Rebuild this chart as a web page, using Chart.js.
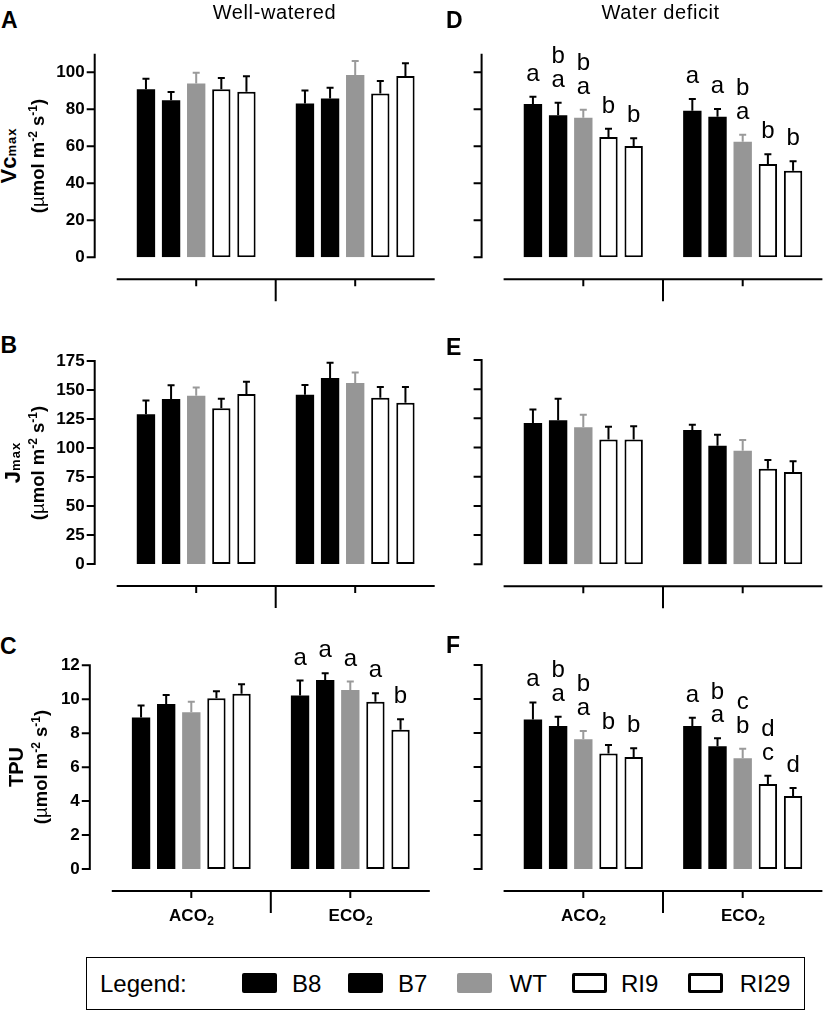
<!DOCTYPE html>
<html>
<head>
<meta charset="utf-8">
<script src="https://cdn.jsdelivr.net/npm/chart.js@4.4.1/dist/chart.umd.min.js"></script>
<style>
  body { margin: 0; background: #fff; }
  #fig { position: relative; width: 827px; height: 1011px; overflow: hidden;
         font-family: "Liberation Sans", Arial, sans-serif; color: #000; background: #fff; }
  #fig canvas { position: absolute; }
  .t { position: absolute; white-space: nowrap; }
  .rot { position: absolute; white-space: nowrap; text-align: center; transform: rotate(-90deg); transform-origin: 50% 50%; font-weight: bold; }
  .sw { position: absolute; box-sizing: border-box; border-radius: 2px; }
</style>
</head>
<body>
<div id="fig"></div>
<script>
// ---------------- DATA ----------------
const categories = ['ACO2', 'ECO2'];
const series = ['B8', 'B7', 'WT', 'RI9', 'RI29'];

const vcTicks = [0, 20, 40, 60, 80, 100];
const jTicks = [0, 25, 50, 75, 100, 125, 150, 175];
const tpuTicks = [0, 2, 4, 6, 8, 10, 12];
const vcMax = 110, jMax = 175, tpuMax = 12;

// [series][category]  (category order: ACO2, ECO2)
const vcWellMean = [[90.8, 83.2], [84.9, 85.9], [94.0, 98.6], [90.8, 88.6], [89.5, 98.0]];
const vcWellErr  = [[5.7, 6.9], [4.5, 5.8], [5.8, 7.5], [6.1, 6.7], [8.3, 6.9]];

const jWellMean = [[129.0, 146.0], [142.2, 160.3], [145.1, 156.0], [134.2, 143.4], [146.6, 139.0]];
const jWellErr  = [[12.0, 8.3], [12.0, 13.2], [7.0, 9.0], [8.3, 9.2], [10.6, 13.6]];

const tpuWellMean = [[8.92, 10.22], [9.72, 11.14], [9.23, 10.55], [10.06, 9.86], [10.33, 8.21]];
const tpuWellErr  = [[0.71, 0.88], [0.53, 0.39], [0.63, 0.49], [0.41, 0.49], [0.55, 0.61]];

const vcDefMean = [[82.9, 79.2], [76.8, 76.0], [75.5, 62.5], [65.0, 50.4], [60.2, 46.8]];
const vcDefErr  = [[3.9, 6.4], [6.8, 4.2], [4.3, 3.8], [4.5, 5.3], [4.1, 5.1]];

const jDefMean = [[121.0, 115.0], [123.3, 101.6], [117.3, 97.3], [106.8, 81.9], [106.8, 79.1]];
const jDefErr  = [[11.7, 4.6], [18.6, 9.4], [10.9, 9.1], [11.1, 7.5], [11.4, 9.1]];

const tpuDefMean = [[8.80, 8.41], [8.41, 7.22], [7.63, 6.51], [6.80, 5.00], [6.59, 4.29]];
const tpuDefErr  = [[1.00, 0.49], [0.55, 0.47], [0.49, 0.57], [0.49, 0.49], [0.51, 0.47]];

// significance letters [category][series], read top-to-bottom
const tpuWellLetters = [['', '', '', '', ''], ['a', 'a', 'a', 'a', 'b']];
const vcDefLetters   = [['a', 'ba', 'ba', 'b', 'b'], ['a', 'a', 'ba', 'b', 'b']];
const tpuDefLetters  = [['a', 'ba', 'ba', 'b', 'b'], ['a', 'ba', 'cb', 'dc', 'd']];

// ---------------- STYLE ----------------
const FONT = '"Liberation Sans", Arial, sans-serif';
const seriesFill = ['#000000', '#000000', '#969696', '#ffffff', '#ffffff'];
const seriesBorder = [0, 0, 0, 2, 2];
const seriesErrColor = ['#000000', '#000000', '#9a9a9a', '#000000', '#000000'];

Chart.defaults.font.family = FONT;
Chart.defaults.color = '#000';

const fig = document.getElementById('fig');

function makePanel(cfg) {
  const p = cfg.plot;
  const left = Math.floor(p.l - 80);
  const top = Math.floor(p.t - 50);
  const width = Math.ceil(p.r + 4 - left);
  const height = Math.ceil(p.b + 62 - top);
  const cv = document.createElement('canvas');
  cv.width = width; cv.height = height;
  cv.style.left = left + 'px'; cv.style.top = top + 'px';
  cv.style.width = width + 'px'; cv.style.height = height + 'px';
  fig.appendChild(cv);

  const plugin = {
    id: 'panel_' + cfg.id,
    afterDatasetsDraw(chart) {
      const ctx = chart.ctx, y = chart.scales.y;
      chart.data.datasets.forEach((ds, di) => {
        const meta = chart.getDatasetMeta(di);
        meta.data.forEach((bar, ci) => {
          const errTop = y.getPixelForValue(ds.data[ci] + ds.errs[ci]);
          ctx.save();
          ctx.strokeStyle = ds.errColor;
          ctx.lineWidth = 2;
          ctx.beginPath();
          ctx.moveTo(bar.x, bar.y);
          ctx.lineTo(bar.x, errTop);
          ctx.moveTo(bar.x - 3.5, errTop);
          ctx.lineTo(bar.x + 3.5, errTop);
          ctx.stroke();
          if (cfg.letters) {
            const str = cfg.letters[ci][di] || '';
            const n = str.length;
            ctx.fillStyle = '#000';
            ctx.font = '24px ' + FONT;
            ctx.textAlign = 'center';
            ctx.textBaseline = 'alphabetic';
            for (let k = 0; k < n; k++) {
              ctx.fillText(str[k], bar.x, errTop - 16 - (n - 1 - k) * 23.5);
            }
          }
          ctx.restore();
        });
      });
    },
    afterDraw(chart) {
      const ctx = chart.ctx, ca = chart.chartArea, y = chart.scales.y, x = chart.scales.x;
      ctx.save();
      ctx.strokeStyle = '#000';
      ctx.lineWidth = 2;
      // y axis (offset)
      const ax = ca.left - 22;
      const y0 = y.getPixelForValue(0), yTop = y.getPixelForValue(cfg.yMax);
      ctx.beginPath();
      ctx.moveTo(ax, y0 + 1);
      ctx.lineTo(ax, yTop);
      cfg.yTicks.forEach(v => {
        const py = y.getPixelForValue(v);
        ctx.moveTo(ax - 8, py);
        ctx.lineTo(ax + 1, py);
      });
      ctx.stroke();
      // x axis (offset)
      const ly = ca.bottom + 22;
      ctx.beginPath();
      ctx.moveTo(ca.left, ly);
      ctx.lineTo(ca.right, ly);
      const cx = categories.map((c, i) => x.getPixelForValue(i));
      cx.forEach(px => { ctx.moveTo(px, ly); ctx.lineTo(px, ly + 7); });
      const mid = (cx[0] + cx[1]) / 2;
      ctx.moveTo(mid, ly);
      ctx.lineTo(mid, ly + 22);
      ctx.stroke();
      if (cfg.showX) {
        ctx.fillStyle = '#000';
        ctx.textBaseline = 'alphabetic';
        ctx.textAlign = 'left';
        categories.forEach((c, i) => {
          const main = c.slice(0, -1), sub = c.slice(-1);
          ctx.font = 'bold 17px ' + FONT;
          const w1 = ctx.measureText(main).width;
          ctx.font = 'bold 12px ' + FONT;
          const w2 = ctx.measureText(sub).width;
          const sx = cx[i] - (w1 + w2) / 2;
          ctx.font = 'bold 17px ' + FONT;
          ctx.fillText(main, sx, ly + 30);
          ctx.font = 'bold 12px ' + FONT;
          ctx.fillText(sub, sx + w1 + 0.5, ly + 34);
        });
      }
      ctx.restore();
    }
  };

  const datasets = series.map((s, i) => ({
    label: s,
    data: cfg.means[i],
    errs: cfg.errs[i],
    errColor: seriesErrColor[i],
    backgroundColor: seriesFill[i],
    borderColor: '#000',
    borderWidth: seriesBorder[i],
    borderSkipped: false
  }));

  new Chart(cv, {
    type: 'bar',
    data: { labels: categories, datasets },
    options: {
      responsive: false,
      animation: false,
      devicePixelRatio: 1,
      events: [],
      layout: { padding: { top: p.t - top, right: left + width - p.r, left: 0, bottom: 0 } },
      plugins: { legend: { display: false }, tooltip: { enabled: false } },
      datasets: { bar: { categoryPercentage: 0.79, barPercentage: 0.73 } },
      scales: {
        x: {
          type: 'category',
          grid: { display: false, drawTicks: false },
          border: { display: false },
          ticks: { display: false },
          afterFit: s => { s.height = top + height - p.b; }
        },
        y: {
          type: 'linear',
          min: 0, max: cfg.yMax,
          grid: { display: false, drawTicks: false },
          border: { display: false },
          ticks: { display: cfg.showY, padding: 32, color: '#000', font: { size: 17, weight: 'bold', family: FONT } },
          afterBuildTicks: s => { s.ticks = cfg.yTicks.map(v => ({ value: v })); },
          afterFit: s => { s.width = p.l - left; }
        }
      }
    },
    plugins: [plugin]
  });
}

makePanel({ id: 'A', plot: { l: 116.7, r: 434.7, t: 53.8, b: 257.3 }, yMax: vcMax, yTicks: vcTicks, showY: true, showX: false, means: vcWellMean, errs: vcWellErr });
makePanel({ id: 'B', plot: { l: 116.7, r: 434.7, t: 361, b: 564 }, yMax: jMax, yTicks: jTicks, showY: true, showX: false, means: jWellMean, errs: jWellErr });
makePanel({ id: 'C', plot: { l: 111.8, r: 429.8, t: 665.3, b: 869 }, yMax: tpuMax, yTicks: tpuTicks, showY: true, showX: true, means: tpuWellMean, errs: tpuWellErr, letters: tpuWellLetters });
makePanel({ id: 'D', plot: { l: 503.6, r: 822.4, t: 53.8, b: 257.3 }, yMax: vcMax, yTicks: vcTicks, showY: false, showX: false, means: vcDefMean, errs: vcDefErr, letters: vcDefLetters });
makePanel({ id: 'E', plot: { l: 503.6, r: 822.4, t: 360, b: 564.3 }, yMax: jMax, yTicks: jTicks, showY: false, showX: false, means: jDefMean, errs: jDefErr });
makePanel({ id: 'F', plot: { l: 503.6, r: 822.4, t: 665, b: 869 }, yMax: tpuMax, yTicks: tpuTicks, showY: false, showX: true, means: tpuDefMean, errs: tpuDefErr, letters: tpuDefLetters });

// ---------------- HTML TEXT ----------------
function addText(html, css) {
  const d = document.createElement('div');
  d.className = 't';
  d.innerHTML = html;
  Object.assign(d.style, css);
  fig.appendChild(d);
  return d;
}
// column titles
addText('Well-watered', { left: '174.5px', top: '1.5px', width: '200px', textAlign: 'center', fontSize: '20px', lineHeight: '20px', letterSpacing: '0.6px' });
addText('Water deficit', { left: '560.7px', top: '1.5px', width: '200px', textAlign: 'center', fontSize: '20px', lineHeight: '20px', letterSpacing: '0.6px' });
// panel letters
[['A', 1, 8.6], ['B', 0.5, 333.6], ['C', 0, 634.6], ['D', 446, 8.6], ['E', 446, 335.6], ['F', 446, 633.6]].forEach(([t, x, y]) => {
  addText(t, { left: x + 'px', top: y + 'px', fontSize: '23px', lineHeight: '23px', fontWeight: 'bold' });
});
// y-axis titles (rotated)
function addRot(html, cx, cy, fs) {
  const W = 220, H = Math.round(fs * 1.4);
  const d = document.createElement('div');
  d.className = 'rot';
  d.innerHTML = html;
  Object.assign(d.style, { left: (cx - W / 2) + 'px', top: (cy - H / 2) + 'px', width: W + 'px', height: H + 'px', lineHeight: H + 'px', fontSize: fs + 'px' });
  fig.appendChild(d);
}
const unitHTML = '(<span style="font-weight:normal">µ</span>mol m<span style="font-size:12px;line-height:1;vertical-align:7px">-2</span> s<span style="font-size:12px;line-height:1;vertical-align:7px">-1</span>)';
const subMax = '<span style="font-size:13px;line-height:1;letter-spacing:1px">max</span>';
addRot('Vc' + subMax, 7.7, 155.5, 22);
addRot(unitHTML, 38, 155.5, 18.5);
addRot('J' + subMax, 11.7, 462.5, 22);
addRot(unitHTML, 38, 462.5, 18.5);
addRot('TPU', 16.4, 767, 20);
addRot(unitHTML, 41, 767, 18.5);

// legend
const lg = document.createElement('div');
Object.assign(lg.style, { position: 'absolute', left: '86px', top: '957px', width: '719px', height: '53px', boxSizing: 'border-box', border: '1.5px solid #000' });
fig.appendChild(lg);
addText('Legend:', { left: '100px', top: '972px', fontSize: '24px', lineHeight: '24px' });
const swX = [241.7, 348.3, 456.5, 571.7, 688];
const txX = [292, 398, 509.5, 621, 739.7];
series.forEach((s, i) => {
  const sw = document.createElement('div');
  sw.className = 'sw';
  Object.assign(sw.style, { left: swX[i] + 'px', top: '973.3px', width: '35px', height: '19.4px', background: seriesFill[i], border: seriesBorder[i] ? '3px solid #000' : 'none' });
  fig.appendChild(sw);
  addText(s, { left: txX[i] + 'px', top: '971.7px', fontSize: '24px', lineHeight: '24px' });
});
</script>
</body>
</html>
